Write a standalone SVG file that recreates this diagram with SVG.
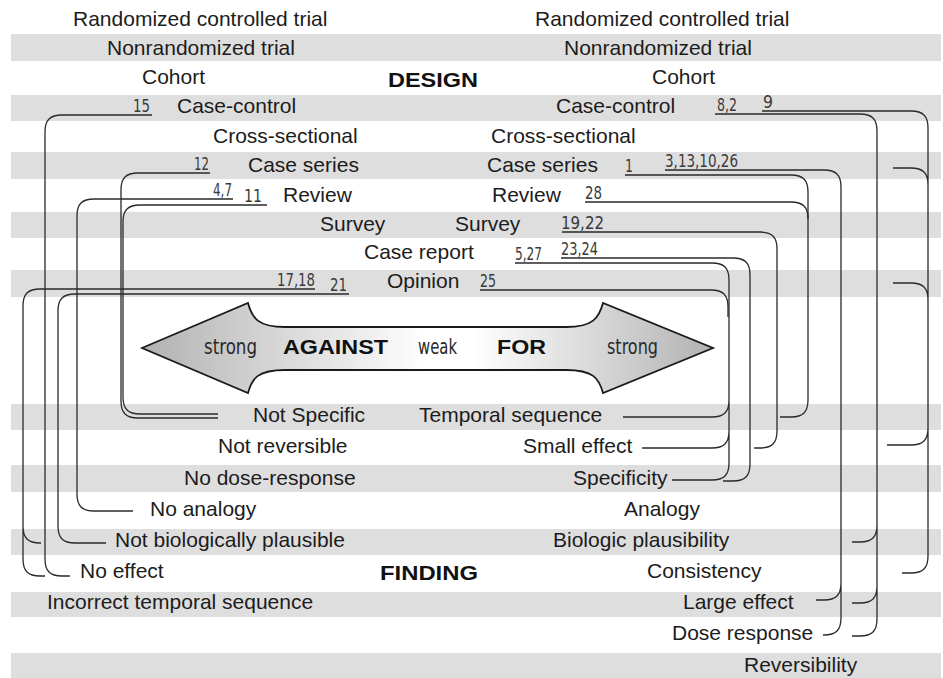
<svg xmlns="http://www.w3.org/2000/svg" width="943" height="678" viewBox="0 0 943 678">
<style>
.band{fill:#dedede}
.t{font-family:"Liberation Sans",Arial,Helvetica,sans-serif;font-size:21px;fill:#1c1c1c}
.n{font-family:"Liberation Sans Narrow","DejaVu Sans Condensed","Liberation Sans",sans-serif;font-size:18px;font-stretch:condensed;fill:#3a3a3a}
.s{font-family:"Liberation Sans Narrow","DejaVu Sans Condensed","Liberation Sans",sans-serif;font-size:22px;font-stretch:condensed;fill:#2a2a2a}
.b{font-family:"Liberation Sans",Arial,Helvetica,sans-serif;font-size:20px;font-weight:900;fill:#111}
.c{fill:none;stroke:#2a2a2a;stroke-width:1.3}
</style>
<defs>
<linearGradient id="ag" gradientUnits="userSpaceOnUse" x1="142" y1="0" x2="713" y2="0">
<stop offset="0" stop-color="#b2b2b2"/>
<stop offset="0.5" stop-color="#ffffff"/>
<stop offset="0.58" stop-color="#ffffff"/>
<stop offset="1" stop-color="#b2b2b2"/>
</linearGradient>
</defs>
<rect width="943" height="678" fill="#ffffff"/>
<g id="bands">
<rect class="band" x="11" y="34" width="930" height="27"/>
<rect class="band" x="11" y="95" width="930" height="26"/>
<rect class="band" x="11" y="152" width="930" height="27"/>
<rect class="band" x="11" y="212" width="930" height="26"/>
<rect class="band" x="11" y="270" width="930" height="27"/>
<rect class="band" x="11" y="404" width="930" height="26"/>
<rect class="band" x="11" y="465" width="930" height="27"/>
<rect class="band" x="11" y="529" width="930" height="26"/>
<rect class="band" x="11" y="592" width="930" height="25"/>
<rect class="band" x="11" y="653" width="930" height="25"/>
</g>
<g id="arrow">
<path d="M142,348 L248,303 C252,318 258,327 285,327 L566,327 C593,327 599,318 603,303 L713,348 L603,393 C599,378 593,370 566,370 L285,370 C258,370 252,378 248,393 Z" fill="url(#ag)" stroke="#1a1a1a" stroke-width="1.8" stroke-linejoin="miter"/>
<text class="s" x="204" y="354" textLength="53" lengthAdjust="spacingAndGlyphs">strong</text>
<text class="b" x="283" y="354" font-size="21" textLength="105" lengthAdjust="spacingAndGlyphs">AGAINST</text>
<text class="s" x="418" y="354" textLength="39" lengthAdjust="spacingAndGlyphs">weak</text>
<text class="b" x="497" y="354" font-size="21" textLength="49" lengthAdjust="spacingAndGlyphs">FOR</text>
<text class="s" x="607" y="354" textLength="51" lengthAdjust="spacingAndGlyphs">strong</text>
</g>
<g id="connectors">
<path class="c" d="M152,115 H62 C50,115 45,120 45,132 V559 C45,571 50,576 62,576 H70"/>
<path class="c" d="M315,289 H40 C28,289 23,294 23,306 V559 C23,571 28,576 40,576 H45 M23,526 C23,538 28,543 40,543 H41"/>
<path class="c" d="M349,294 H75 C63,294 58,299 58,311 V526 C58,538 63,543 75,543 H106"/>
<path class="c" d="M233,199 H94 C82,199 77,204 77,216 V494 C77,506 82,511 94,511 H133"/>
<path class="c" d="M210,173 H138 C126,173 121,178 121,190 V401 C121,413 126,418 138,418 H218"/>
<path class="c" d="M267,205 H140 C128,205 123,210 123,222 V397 C123,409 128,414 140,414 H218"/>
<path class="c" d="M715,114 H860 C872,114 877,119 877,131 V619 C877,631 872,636 860,636 H852 M852,542 H860 C872,542 877,537 877,525 M852,603 H860 C872,603 877,598 877,586"/>
<path class="c" d="M762,111 H911 C923,111 928,116 928,128 V556 C928,568 923,573 911,573 H902 M893,168 H911 C923,168 928,173 928,185 M893,283 H911 C923,283 928,288 928,300 M887,445 H911 C923,445 928,440 928,428"/>
<path class="c" d="M665,170 H824 C836,170 841,175 841,187 V618 C841,630 836,635 824,635 H823 M816,600 H824 C836,600 841,595 841,583"/>
<path class="c" d="M625,175 H791 C803,175 808,180 808,192 V400 C808,412 803,417 791,417 H780"/>
<path class="c" d="M585,202 H791 C803,202 808,207 808,219"/>
<path class="c" d="M562,232 H760 C772,232 777,237 777,249 V431 C777,443 772,448 760,448 H754"/>
<path class="c" d="M561,258 H733 C745,258 750,263 750,275 V464 C750,476 745,481 733,481 H723"/>
<path class="c" d="M515,263 H712 C724,263 729,268 729,280 V463 C729,475 724,480 712,480 H672 M623,417 H712 C724,417 729,412 729,400 M642,448 H712 C724,448 729,443 729,431"/>
<path class="c" d="M480,290 H711 C723,290 728,295 728,307 V317"/>
</g>
<g id="design-label"><text class="b" x="388" y="87" textLength="90" lengthAdjust="spacingAndGlyphs">DESIGN</text></g>
<g id="finding-label"><text class="b" x="380" y="580" textLength="98" lengthAdjust="spacingAndGlyphs">FINDING</text></g>
<g id="against-design">
<text class="t" x="73" y="26">Randomized controlled trial</text>
<text class="t" x="107" y="55">Nonrandomized trial</text>
<text class="t" x="142" y="84">Cohort</text>
<text class="t" x="177" y="113">Case-control</text>
<text class="t" x="213" y="143">Cross-sectional</text>
<text class="t" x="248" y="172">Case series</text>
<text class="t" x="283" y="202">Review</text>
<text class="t" x="320" y="231">Survey</text>
</g>
<g id="for-design">
<text class="t" x="535" y="26">Randomized controlled trial</text>
<text class="t" x="564" y="55">Nonrandomized trial</text>
<text class="t" x="652" y="84">Cohort</text>
<text class="t" x="556" y="113">Case-control</text>
<text class="t" x="491" y="143">Cross-sectional</text>
<text class="t" x="487" y="172">Case series</text>
<text class="t" x="492" y="202">Review</text>
<text class="t" x="455" y="231">Survey</text>
</g>
<g id="shared-design">
<text class="t" x="364" y="259">Case report</text>
<text class="t" x="387" y="288">Opinion</text>
</g>
<g id="refs">
<text class="n" x="133" y="112" textLength="17" lengthAdjust="spacingAndGlyphs">15</text>
<text class="n" x="194" y="170" textLength="15" lengthAdjust="spacingAndGlyphs">12</text>
<text class="n" x="213" y="196" textLength="19" lengthAdjust="spacingAndGlyphs">4,7</text>
<text class="n" x="244" y="202" textLength="18" lengthAdjust="spacingAndGlyphs">11</text>
<text class="n" x="277" y="286" textLength="38" lengthAdjust="spacingAndGlyphs">17,18</text>
<text class="n" x="330" y="291" textLength="17" lengthAdjust="spacingAndGlyphs">21</text>
<text class="n" x="717" y="111" textLength="20" lengthAdjust="spacingAndGlyphs">8,2</text>
<text class="n" x="763" y="108" textLength="10" lengthAdjust="spacingAndGlyphs">9</text>
<text class="n" x="625" y="172" textLength="8" lengthAdjust="spacingAndGlyphs">1</text>
<text class="n" x="665" y="167" textLength="73" lengthAdjust="spacingAndGlyphs">3,13,10,26</text>
<text class="n" x="585" y="199" textLength="17" lengthAdjust="spacingAndGlyphs">28</text>
<text class="n" x="561" y="229" textLength="43" lengthAdjust="spacingAndGlyphs">19,22</text>
<text class="n" x="515" y="260" textLength="27" lengthAdjust="spacingAndGlyphs">5,27</text>
<text class="n" x="561" y="255" textLength="37" lengthAdjust="spacingAndGlyphs">23,24</text>
<text class="n" x="480" y="287" textLength="16" lengthAdjust="spacingAndGlyphs">25</text>
</g>
<g id="against-finding">
<text class="t" x="253" y="422">Not Specific</text>
<text class="t" x="218" y="453">Not reversible</text>
<text class="t" x="184" y="485">No dose-response</text>
<text class="t" x="150" y="516">No analogy</text>
<text class="t" x="115" y="547">Not biologically plausible</text>
<text class="t" x="80" y="578">No effect</text>
<text class="t" x="47" y="609">Incorrect temporal sequence</text>
</g>
<g id="for-finding">
<text class="t" x="419" y="422">Temporal sequence</text>
<text class="t" x="523" y="453">Small effect</text>
<text class="t" x="573" y="485">Specificity</text>
<text class="t" x="624" y="516">Analogy</text>
<text class="t" x="553" y="547">Biologic plausibility</text>
<text class="t" x="647" y="578">Consistency</text>
<text class="t" x="683" y="609">Large effect</text>
<text class="t" x="672" y="640">Dose response</text>
<text class="t" x="744" y="672">Reversibility</text>
</g>
</svg>
